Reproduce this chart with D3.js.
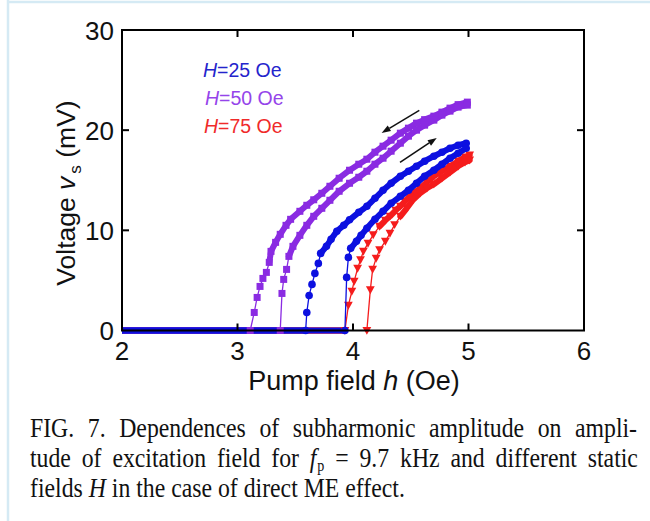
<!DOCTYPE html>
<html><head><meta charset="utf-8">
<script src="https://cdn.jsdelivr.net/npm/d3@7"></script>
<style>body{margin:0;background:#fff}svg{display:block}</style>
</head><body>
<script>
// ---- data ----
const xTicks = [2, 3, 4, 5, 6];
const yTicks = [0, 10, 20, 30];
const legendH = ["25", "50", "75"];
// each branch: zero plateau end, sparse jump points, dense top points  [h (Oe), v (mV)]
// H = 50 Oe (squares)
const h50_back_zeroEnd = 3.11;
const h50_back_rise = [[3.11,0],[3.145,1.8],[3.17,3.3],[3.195,4.4],[3.22,5.2],[3.25,5.8],[3.275,6.8]];
const h50_back_top = [[3.29,7.9],[3.33,8.8],[3.37,9.6],[3.42,10.5],[3.46,11.1],[3.54,11.9],[3.60,12.5],[3.66,13.05],[3.73,13.7],[3.80,14.4],[3.88,15.2],[3.97,16.0],[4.05,16.6],[4.12,17.1],[4.19,17.8],[4.26,18.4],[4.33,19.0],[4.41,19.7],[4.48,20.2],[4.55,20.7],[4.62,21.05],[4.70,21.4],[4.77,21.8],[4.84,22.2],[4.91,22.55],[4.99,22.8]];
const h50_fwd_zeroEnd = 3.37;
const h50_fwd_rise = [[3.37,0],[3.385,3.7],[3.40,5.1],[3.425,6.1],[3.445,7.4]];
const h50_fwd_top = [[3.48,8.4],[3.54,9.5],[3.60,10.5],[3.66,11.4],[3.73,12.2],[3.80,13.0],[3.88,13.9],[3.97,14.7],[4.05,15.3],[4.12,15.9],[4.19,16.6],[4.26,17.2],[4.33,17.9],[4.41,18.7],[4.48,19.4],[4.55,20.0],[4.62,20.5],[4.70,21.0],[4.77,21.5],[4.84,21.9],[4.91,22.3],[4.99,22.5]];
// H = 25 Oe (circles)
const h25_back_zeroEnd = 3.59;
const h25_back_rise = [[3.59,0],[3.60,1.8],[3.62,3.5],[3.645,4.6],[3.67,5.7],[3.70,6.7],[3.72,7.7]];
const h25_back_top = [[3.77,8.4],[3.81,9.1],[3.86,9.9],[3.92,10.5],[3.97,11.05],[4.05,11.8],[4.12,12.4],[4.19,13.2],[4.26,14.0],[4.33,14.7],[4.41,15.4],[4.48,15.9],[4.55,16.4],[4.62,16.9],[4.70,17.4],[4.77,17.8],[4.84,18.2],[4.91,18.5],[4.98,18.7]];
const h25_fwd_zeroEnd = 3.93;
const h25_fwd_rise = [[3.93,0],[3.945,5.3],[3.96,7.3],[3.98,8.2]];
const h25_fwd_top = [[4.03,8.9],[4.07,9.5],[4.12,10.2],[4.19,11.1],[4.26,11.9],[4.33,12.7],[4.41,13.4],[4.48,14.0],[4.55,14.7],[4.62,15.4],[4.70,16.0],[4.77,16.6],[4.84,17.2],[4.91,17.7],[4.98,18.2]];
// H = 75 Oe (triangles)
const h75_back_zeroEnd = 3.93;
const h75_back_rise = [[3.93,0],[3.96,2.5],[3.99,3.9],[4.01,4.9],[4.04,6.2],[4.065,7.05],[4.09,7.9],[4.13,8.7],[4.175,9.55],[4.23,10.4]];
const h75_back_top = [[4.28,11.0],[4.32,11.4],[4.37,12.0],[4.41,12.4],[4.45,12.9],[4.49,13.4],[4.54,13.8],[4.58,14.2],[4.64,14.8],[4.70,15.4],[4.77,15.9],[4.84,16.4],[4.91,16.9],[4.97,17.3],[5.01,17.5]];
const h75_fwd_zeroEnd = 3.92;
const h75_fwd_rise = [[4.12,0],[4.15,4.05],[4.17,6.1],[4.20,7.2],[4.23,8.05],[4.28,8.9],[4.32,9.7],[4.36,10.55],[4.41,11.4]];
const h75_fwd_top = [[4.465,12.2],[4.52,13.05],[4.58,13.7],[4.64,14.2],[4.70,14.6],[4.77,15.2],[4.84,15.8],[4.91,16.4],[4.97,16.8],[5.01,17.0]];
// sweep direction arrows [tail, head]
const arrowDown = [[4.574,21.98],[4.248,19.72]];
const arrowUp = [[4.407,16.78],[4.725,19.22]];

// ---- chart ----
const W = 650, H = 521;
const svg = d3.select("body").append("svg").attr("width", W).attr("height", H);
svg.append("rect").attr("width", W).attr("height", H).attr("fill", "#fff");
// page frame
svg.append("line").attr("x1", 8).attr("x2", 8).attr("y1", 0).attr("y2", H).attr("stroke", "#d5eaf4").attr("stroke-width", 2.5);
svg.append("line").attr("x1", 8).attr("x2", W).attr("y1", 2).attr("y2", 2).attr("stroke", "#d5eaf4").attr("stroke-width", 2.5);

const x = d3.scaleLinear().domain([2, 6]).range([122, 584]);
const y = d3.scaleLinear().domain([0, 30]).range([330.5, 30]);
const sans = "'Liberation Sans', Arial, sans-serif";
const serif = "'Liberation Serif', 'Times New Roman', serif";

const colors = {b: "#0c10e0", p: "#8a2be2", r: "#f51c1c"};
const txtColors = {b: "#2424cc", p: "#9544ea", r: "#f02a2a"};

const plot = svg.append("g");
const line = d3.line().x(d => x(d[0])).y(d => y(d[1]));

function marker(g, kind, col, pts) {
  const sel = g.selectAll(null).data(pts).enter();
  if (kind === "square") {
    sel.append("rect").attr("x", d => x(d[0]) - 3.5).attr("y", d => y(d[1]) - 3.5)
      .attr("width", 7).attr("height", 7).attr("fill", col);
  } else if (kind === "circle") {
    sel.append("circle").attr("cx", d => x(d[0])).attr("cy", d => y(d[1])).attr("r", 3.8).attr("fill", col);
  } else {
    sel.append("path").attr("d", d => {
      const cx = x(d[0]), cy = y(d[1]);
      return `M${cx-4.4},${cy-3.6}L${cx+4.4},${cy-3.6}L${cx},${cy+4.3}Z`;
    }).attr("fill", col);
  }
}

const branches = [
  {c: colors.r, k: "tri", z: h75_back_zeroEnd, rise: h75_back_rise, top: h75_back_top},
  {c: colors.r, k: "tri", z: h75_fwd_zeroEnd, rise: h75_fwd_rise, top: h75_fwd_top},
  {c: colors.p, k: "square", z: h50_back_zeroEnd, rise: h50_back_rise, top: h50_back_top},
  {c: colors.p, k: "square", z: h50_fwd_zeroEnd, rise: h50_fwd_rise, top: h50_fwd_top},
  {c: colors.b, k: "circle", z: h25_back_zeroEnd, rise: h25_back_rise, top: h25_back_top},
  {c: colors.b, k: "circle", z: h25_fwd_zeroEnd, rise: h25_fwd_rise, top: h25_fwd_top}
];
// zero plateaus (dense markers form a bar)
branches.forEach(b => {
  plot.append("path").attr("d", line([[2, 0], [b.z, 0]])).attr("stroke", b.c)
    .attr("stroke-width", 6).attr("fill", "none");
});
branches.forEach(b => {
  const g = plot.append("g");
  const all = b.rise.concat(b.top);
  g.append("path").attr("d", line(all)).attr("stroke", b.c).attr("stroke-width", 1.3).attr("fill", "none");
  const band = [b.rise[b.rise.length - 1]].concat(b.top);
  g.append("path").attr("d", line(band)).attr("stroke", b.c).attr("stroke-width", 6)
    .attr("stroke-linejoin", "round").attr("stroke-linecap", "round").attr("fill", "none");
  marker(g, b.k, b.c, all);
});

// arrows
[arrowDown, arrowUp].forEach(a => {
  const x1 = x(a[0][0]), y1 = y(a[0][1]), x2 = x(a[1][0]), y2 = y(a[1][1]);
  const ang = Math.atan2(y2 - y1, x2 - x1);
  const L = 9, Wd = 3.2;
  const bx = x2 - L * Math.cos(ang), by = y2 - L * Math.sin(ang);
  svg.append("line").attr("x1", x1).attr("y1", y1).attr("x2", bx).attr("y2", by)
    .attr("stroke", "#111").attr("stroke-width", 1.5);
  svg.append("path").attr("d", `M${x2},${y2}L${bx + Wd*Math.sin(ang)},${by - Wd*Math.cos(ang)}L${bx - Wd*Math.sin(ang)},${by + Wd*Math.cos(ang)}Z`)
    .attr("fill", "#111");
});

// frame + ticks
const frame = svg.append("g");
frame.append("rect").attr("x", x(2)).attr("y", y(30)).attr("width", x(6) - x(2)).attr("height", y(0) - y(30))
  .attr("fill", "none").attr("stroke", "#000").attr("stroke-width", 2);
const tl = 7;
xTicks.slice(1, -1).forEach(t => {
  frame.append("line").attr("x1", x(t)).attr("x2", x(t)).attr("y1", y(0)).attr("y2", y(0) - tl).attr("stroke", "#000").attr("stroke-width", 2);
  frame.append("line").attr("x1", x(t)).attr("x2", x(t)).attr("y1", y(30)).attr("y2", y(30) + tl).attr("stroke", "#000").attr("stroke-width", 2);
});
yTicks.slice(1, -1).forEach(t => {
  frame.append("line").attr("x1", x(2)).attr("x2", x(2) + tl).attr("y1", y(t)).attr("y2", y(t)).attr("stroke", "#000").attr("stroke-width", 2);
  frame.append("line").attr("x1", x(6)).attr("x2", x(6) - tl).attr("y1", y(t)).attr("y2", y(t)).attr("stroke", "#000").attr("stroke-width", 2);
});
xTicks.forEach(t => {
  svg.append("text").attr("x", x(t)).attr("y", 360).attr("text-anchor", "middle")
    .attr("font-family", sans).attr("font-size", 26).attr("fill", "#111").text(t);
});
yTicks.forEach(t => {
  svg.append("text").attr("x", 114).attr("y", y(t) + 9.5).attr("text-anchor", "end")
    .attr("font-family", sans).attr("font-size", 26).attr("fill", "#111").text(t);
});
// axis titles
const xt = svg.append("text").attr("x", 354).attr("y", 390).attr("text-anchor", "middle")
  .attr("font-family", sans).attr("font-size", 27).attr("fill", "#111");
xt.append("tspan").text("Pump field ");
xt.append("tspan").attr("font-style", "italic").text("h");
xt.append("tspan").text(" (Oe)");
const yt = svg.append("text").attr("transform", "translate(75,193) rotate(-90)").attr("text-anchor", "middle")
  .attr("font-family", sans).attr("font-size", 26.5).attr("fill", "#111");
yt.append("tspan").text("Voltage ");
yt.append("tspan").attr("font-style", "italic").text("v");
yt.append("tspan").attr("font-size", 17).attr("dy", 6).attr("dx", 3).text("s");
yt.append("tspan").attr("dy", -6).text(" (mV)");

// legend
const legCols = [txtColors.b, txtColors.p, txtColors.r];
const legX = [203, 205, 204];
legendH.forEach((v, i) => {
  const t = svg.append("text").attr("x", legX[i]).attr("y", 77 + i * 28)
    .attr("font-family", sans).attr("font-size", 19.5).attr("fill", legCols[i]);
  t.append("tspan").attr("font-style", "italic").text("H");
  t.append("tspan").text("=" + v + " Oe");
});

// caption (condensed serif, justified)
const capLines = [
  [{t: "FIG. 7. Dependences of subharmonic amplitude on ampli-"}],
  [{t: "tude of excitation field for "}, {t: "f", i: true}, {t: "p", sub: true}, {t: " = 9.7 kHz and different static", after: true}],
  [{t: "fields "}, {t: "H", i: true}, {t: " in the case of direct ME effect."}]
];
const capJust = [true, true, false];
const sx = 0.88;
capLines.forEach((ln, li) => {
  const t = svg.append("text").attr("transform", `translate(30,${437 + li * 30}) scale(${sx},1)`)
    .attr("x", 0).attr("y", 0)
    .attr("font-family", serif).attr("font-size", 27).attr("fill", "#111")
    .attr("xml:space", "preserve").style("white-space", "pre");
  ln.forEach(seg => {
    const s = t.append("tspan").text(seg.t);
    if (seg.i) s.attr("font-style", "italic");
    if (seg.sub) s.attr("font-size", 16).attr("dy", 3.5).attr("dx", 1);
    if (seg.after) s.attr("dy", -3.5);
  });
  if (capJust[li]) {
    const target = 607 / sx;
    const nat = t.node().getComputedTextLength();
    const spaces = ln.map(s => s.t).join("").split(" ").length - 1;
    t.style("word-spacing", ((target - nat) / spaces) + "px");
  }
});
</script>
</body></html>
